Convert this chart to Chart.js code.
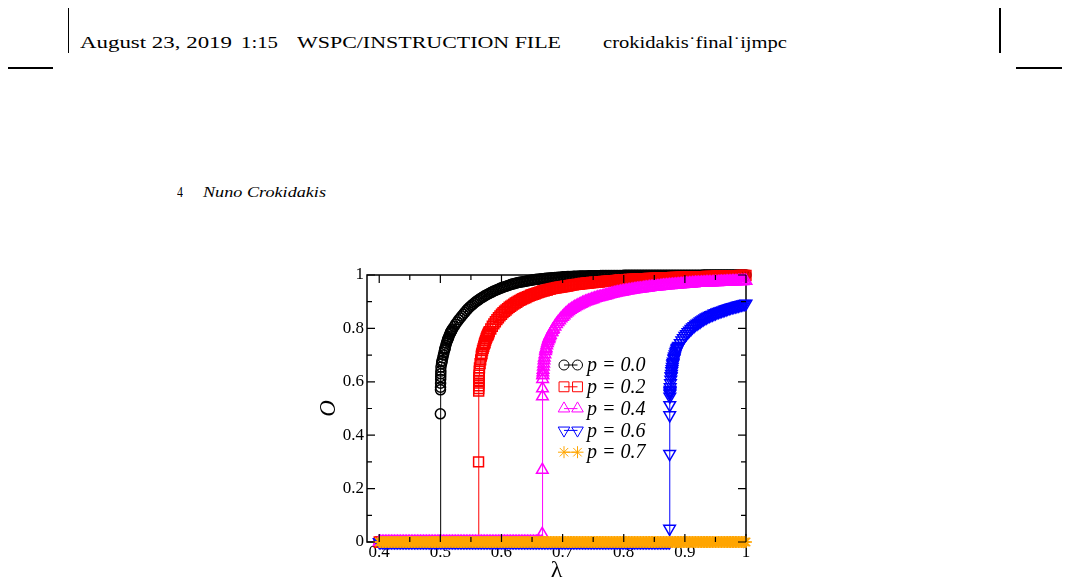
<!DOCTYPE html>
<html lang="en">
<head>
  <meta charset="UTF-8">
  <title>Order parameter O versus lambda</title>
  <script src="https://cdn.jsdelivr.net/npm/chart.js"></script>
  <style>
    html, body { margin: 0; padding: 0; background: #fff; }
    body {
      width: 1070px; height: 587px;
      position: relative; overflow: hidden;
      font-family: "Liberation Serif", "Times New Roman", "DejaVu Serif", serif; color: #000;
    }
    .mark { position: absolute; background: #000; }
    .txt { position: absolute; white-space: nowrap; line-height: 1; transform-origin: 0 0; }
    #plot { position: absolute; left: 0; top: 0; }
  </style>
</head>
<body>
  <!-- crop marks -->
  <div class="mark" style="left:68px;top:8px;width:1px;height:45px"></div>
  <div class="mark" style="left:999px;top:8px;width:2px;height:45px"></div>
  <div class="mark" style="left:8px;top:67px;width:45px;height:2px"></div>
  <div class="mark" style="left:1016px;top:67px;width:46px;height:2px"></div>

  <!-- running head -->
  <div class="txt" style="left:80px;top:34px;font-size:17.5px" data-w="152">August 23, 2019</div>
  <div class="txt" style="left:241px;top:34px;font-size:17.5px" data-w="37">1:15</div>
  <div class="txt" style="left:297px;top:34px;font-size:17.5px" data-w="264">WSPC/INSTRUCTION FILE</div>
  <div class="txt" style="left:603px;top:34px;font-size:17.5px" data-w="184">crokidakis˙final˙ijmpc</div>

  <div class="txt" style="left:177px;top:186px;font-size:14px" data-w="6">4</div>
  <div class="txt" style="left:203px;top:186px;font-size:14px;font-style:italic" data-w="123">Nuno Crokidakis</div>

  <canvas id="plot" width="1070" height="587"></canvas>

  <script>
    // shared lambda grid (step 0.0025), 8 values per row
    const lambdaGrid = [
      0.4000, 0.4025, 0.4050, 0.4075, 0.4100, 0.4125, 0.4150, 0.4175,
      0.4200, 0.4225, 0.4250, 0.4275, 0.4300, 0.4325, 0.4350, 0.4375,
      0.4400, 0.4425, 0.4450, 0.4475, 0.4500, 0.4525, 0.4550, 0.4575,
      0.4600, 0.4625, 0.4650, 0.4675, 0.4700, 0.4725, 0.4750, 0.4775,
      0.4800, 0.4825, 0.4850, 0.4875, 0.4900, 0.4925, 0.4950, 0.4975,
      0.5000, 0.5025, 0.5050, 0.5075, 0.5100, 0.5125, 0.5150, 0.5175,
      0.5200, 0.5225, 0.5250, 0.5275, 0.5300, 0.5325, 0.5350, 0.5375,
      0.5400, 0.5425, 0.5450, 0.5475, 0.5500, 0.5525, 0.5550, 0.5575,
      0.5600, 0.5625, 0.5650, 0.5675, 0.5700, 0.5725, 0.5750, 0.5775,
      0.5800, 0.5825, 0.5850, 0.5875, 0.5900, 0.5925, 0.5950, 0.5975,
      0.6000, 0.6025, 0.6050, 0.6075, 0.6100, 0.6125, 0.6150, 0.6175,
      0.6200, 0.6225, 0.6250, 0.6275, 0.6300, 0.6325, 0.6350, 0.6375,
      0.6400, 0.6425, 0.6450, 0.6475, 0.6500, 0.6525, 0.6550, 0.6575,
      0.6600, 0.6625, 0.6650, 0.6675, 0.6700, 0.6725, 0.6750, 0.6775,
      0.6800, 0.6825, 0.6850, 0.6875, 0.6900, 0.6925, 0.6950, 0.6975,
      0.7000, 0.7025, 0.7050, 0.7075, 0.7100, 0.7125, 0.7150, 0.7175,
      0.7200, 0.7225, 0.7250, 0.7275, 0.7300, 0.7325, 0.7350, 0.7375,
      0.7400, 0.7425, 0.7450, 0.7475, 0.7500, 0.7525, 0.7550, 0.7575,
      0.7600, 0.7625, 0.7650, 0.7675, 0.7700, 0.7725, 0.7750, 0.7775,
      0.7800, 0.7825, 0.7850, 0.7875, 0.7900, 0.7925, 0.7950, 0.7975,
      0.8000, 0.8025, 0.8050, 0.8075, 0.8100, 0.8125, 0.8150, 0.8175,
      0.8200, 0.8225, 0.8250, 0.8275, 0.8300, 0.8325, 0.8350, 0.8375,
      0.8400, 0.8425, 0.8450, 0.8475, 0.8500, 0.8525, 0.8550, 0.8575,
      0.8600, 0.8625, 0.8650, 0.8675, 0.8700, 0.8725, 0.8750, 0.8775,
      0.8800, 0.8825, 0.8850, 0.8875, 0.8900, 0.8925, 0.8950, 0.8975,
      0.9000, 0.9025, 0.9050, 0.9075, 0.9100, 0.9125, 0.9150, 0.9175,
      0.9200, 0.9225, 0.9250, 0.9275, 0.9300, 0.9325, 0.9350, 0.9375,
      0.9400, 0.9425, 0.9450, 0.9475, 0.9500, 0.9525, 0.9550, 0.9575,
      0.9600, 0.9625, 0.9650, 0.9675, 0.9700, 0.9725, 0.9750, 0.9775,
      0.9800, 0.9825, 0.9850, 0.9875, 0.9900, 0.9925, 0.9950, 0.9975,
      1.0000
    ];

    // O read on the grid, one list per p
    const orderP00 = [
      0, 0, 0, 0, 0, 0, 0, 0,
      0, 0, 0, 0, 0, 0, 0, 0,
      0, 0, 0, 0, 0, 0, 0, 0,
      0, 0, 0, 0, 0, 0, 0, 0,
      0, 0, 0, 0, 0, 0, 0, 0,
      0, 0.675, 0.700, 0.724, 0.745, 0.761, 0.776, 0.788,
      0.798, 0.807, 0.816, 0.824, 0.832, 0.839, 0.846, 0.853,
      0.860, 0.867, 0.873, 0.879, 0.884, 0.889, 0.894, 0.899,
      0.903, 0.907, 0.911, 0.915, 0.918, 0.922, 0.925, 0.928,
      0.931, 0.934, 0.937, 0.940, 0.942, 0.945, 0.947, 0.950,
      0.952, 0.954, 0.956, 0.958, 0.960, 0.962, 0.964, 0.966,
      0.967, 0.969, 0.970, 0.972, 0.973, 0.974, 0.975, 0.976,
      0.977, 0.978, 0.979, 0.980, 0.981, 0.982, 0.983, 0.984,
      0.984, 0.985, 0.986, 0.986, 0.987, 0.988, 0.988, 0.989,
      0.989, 0.990, 0.990, 0.991, 0.991, 0.992, 0.992, 0.992,
      0.993, 0.993, 0.993, 0.994, 0.994, 0.994, 0.994, 0.995,
      0.995, 0.995, 0.995, 0.996, 0.996, 0.996, 0.996, 0.996,
      0.996, 0.997, 0.997, 0.997, 0.997, 0.997, 0.997, 0.997,
      0.997, 0.998, 0.998, 0.998, 0.998, 0.998, 0.998, 0.998,
      0.998, 0.998, 0.998, 0.998, 0.998, 0.998, 0.998, 0.998,
      0.999, 0.999, 0.999, 0.999, 0.999, 0.999, 0.999, 0.999,
      0.999, 0.999, 0.999, 0.999, 0.999, 0.999, 0.999, 0.999,
      0.999, 0.999, 0.999, 0.999, 0.999, 0.999, 0.999, 0.999,
      0.999, 0.999, 0.999, 0.999, 0.999, 0.999, 0.999, 0.999,
      0.999, 0.999, 0.999, 0.999, 0.999, 0.999, 0.999, 0.999,
      0.999, 0.999, 0.999, 0.999, 0.999, 0.999, 0.999, 0.999,
      0.999, 0.999, 0.999, 0.999, 1, 1, 1, 1,
      1, 1, 1, 1, 1, 1, 1, 1,
      1, 1, 1, 1, 1, 1, 1, 1,
      1, 1, 1, 1, 1, 1, 1, 1,
      1
    ];
    const orderP02 = [
      0, 0, 0, 0, 0, 0, 0, 0,
      0, 0, 0, 0, 0, 0, 0, 0,
      0, 0, 0, 0, 0, 0, 0, 0,
      0, 0, 0, 0, 0, 0, 0, 0,
      0, 0, 0, 0, 0, 0, 0, 0,
      0, 0, 0, 0, 0, 0, 0, 0,
      0, 0, 0, 0, 0, 0, 0, 0,
      0, 0, 0, 0, 0, 0, 0, 0,
      0, 0, 0.668, 0.702, 0.725, 0.744, 0.762, 0.775,
      0.788, 0.798, 0.808, 0.817, 0.825, 0.833, 0.840, 0.847,
      0.853, 0.859, 0.864, 0.869, 0.874, 0.879, 0.883, 0.887,
      0.891, 0.895, 0.898, 0.902, 0.905, 0.908, 0.911, 0.914,
      0.916, 0.919, 0.921, 0.924, 0.926, 0.928, 0.930, 0.932,
      0.934, 0.936, 0.938, 0.940, 0.941, 0.943, 0.944, 0.946,
      0.947, 0.949, 0.950, 0.951, 0.952, 0.953, 0.954, 0.955,
      0.956, 0.957, 0.958, 0.959, 0.960, 0.961, 0.962, 0.963,
      0.964, 0.965, 0.965, 0.966, 0.967, 0.968, 0.968, 0.969,
      0.970, 0.970, 0.971, 0.972, 0.972, 0.973, 0.973, 0.974,
      0.974, 0.975, 0.975, 0.976, 0.976, 0.977, 0.977, 0.978,
      0.978, 0.979, 0.979, 0.980, 0.980, 0.981, 0.981, 0.981,
      0.982, 0.982, 0.982, 0.983, 0.983, 0.983, 0.984, 0.984,
      0.984, 0.985, 0.985, 0.985, 0.986, 0.986, 0.986, 0.986,
      0.987, 0.987, 0.987, 0.987, 0.988, 0.988, 0.988, 0.988,
      0.989, 0.989, 0.989, 0.989, 0.990, 0.990, 0.990, 0.990,
      0.991, 0.991, 0.991, 0.991, 0.991, 0.992, 0.992, 0.992,
      0.992, 0.992, 0.993, 0.993, 0.993, 0.993, 0.993, 0.993,
      0.994, 0.994, 0.994, 0.994, 0.994, 0.994, 0.995, 0.995,
      0.995, 0.995, 0.995, 0.995, 0.995, 0.996, 0.996, 0.996,
      0.996, 0.996, 0.996, 0.996, 0.997, 0.997, 0.997, 0.997,
      0.997, 0.997, 0.997, 0.997, 0.998, 0.998, 0.998, 0.998,
      0.998
    ];
    const orderP04 = [
      0, 0, 0, 0, 0, 0, 0, 0,
      0, 0, 0, 0, 0, 0, 0, 0,
      0, 0, 0, 0, 0, 0, 0, 0,
      0, 0, 0, 0, 0, 0, 0, 0,
      0, 0, 0, 0, 0, 0, 0, 0,
      0, 0, 0, 0, 0, 0, 0, 0,
      0, 0, 0, 0, 0, 0, 0, 0,
      0, 0, 0, 0, 0, 0, 0, 0,
      0, 0, 0, 0, 0, 0, 0, 0,
      0, 0, 0, 0, 0, 0, 0, 0,
      0, 0, 0, 0, 0, 0, 0, 0,
      0, 0, 0, 0, 0, 0, 0, 0,
      0, 0, 0, 0, 0, 0, 0, 0,
      0, 0, 0, 0.625, 0.690, 0.721, 0.745, 0.762,
      0.776, 0.787, 0.798, 0.807, 0.816, 0.823, 0.830, 0.837,
      0.843, 0.849, 0.855, 0.860, 0.865, 0.869, 0.873, 0.877,
      0.880, 0.883, 0.886, 0.889, 0.892, 0.895, 0.897, 0.900,
      0.902, 0.904, 0.906, 0.908, 0.910, 0.912, 0.914, 0.916,
      0.917, 0.919, 0.920, 0.922, 0.923, 0.925, 0.926, 0.928,
      0.929, 0.931, 0.932, 0.934, 0.935, 0.936, 0.937, 0.938,
      0.939, 0.940, 0.941, 0.942, 0.943, 0.944, 0.945, 0.946,
      0.947, 0.948, 0.949, 0.949, 0.950, 0.951, 0.952, 0.952,
      0.953, 0.954, 0.955, 0.955, 0.956, 0.956, 0.957, 0.957,
      0.958, 0.959, 0.960, 0.960, 0.961, 0.961, 0.962, 0.962,
      0.963, 0.963, 0.964, 0.964, 0.965, 0.965, 0.966, 0.966,
      0.967, 0.967, 0.967, 0.968, 0.968, 0.969, 0.969, 0.970,
      0.970, 0.970, 0.970, 0.971, 0.971, 0.971, 0.972, 0.972,
      0.972, 0.972, 0.972, 0.973, 0.973, 0.973, 0.973, 0.974,
      0.974, 0.974, 0.974, 0.975, 0.975, 0.975, 0.975, 0.976,
      0.976, 0.976, 0.976, 0.977, 0.977, 0.977, 0.977, 0.978,
      0.978
    ];
    const orderP06 = [
      0, 0, 0, 0, 0, 0, 0, 0,
      0, 0, 0, 0, 0, 0, 0, 0,
      0, 0, 0, 0, 0, 0, 0, 0,
      0, 0, 0, 0, 0, 0, 0, 0,
      0, 0, 0, 0, 0, 0, 0, 0,
      0, 0, 0, 0, 0, 0, 0, 0,
      0, 0, 0, 0, 0, 0, 0, 0,
      0, 0, 0, 0, 0, 0, 0, 0,
      0, 0, 0, 0, 0, 0, 0, 0,
      0, 0, 0, 0, 0, 0, 0, 0,
      0, 0, 0, 0, 0, 0, 0, 0,
      0, 0, 0, 0, 0, 0, 0, 0,
      0, 0, 0, 0, 0, 0, 0, 0,
      0, 0, 0, 0, 0, 0, 0, 0,
      0, 0, 0, 0, 0, 0, 0, 0,
      0, 0, 0, 0, 0, 0, 0, 0,
      0, 0, 0, 0, 0, 0, 0, 0,
      0, 0, 0, 0, 0, 0, 0, 0,
      0, 0, 0, 0, 0, 0, 0, 0,
      0, 0, 0, 0, 0, 0, 0, 0,
      0, 0, 0, 0, 0, 0, 0, 0,
      0, 0, 0, 0, 0, 0, 0, 0,
      0, 0, 0, 0, 0, 0, 0, 0,
      0, 0, 0, 0, 0, 0, 0, 0.620,
      0.665, 0.690, 0.710, 0.725, 0.735, 0.745, 0.755, 0.764,
      0.772, 0.779, 0.786, 0.792, 0.798, 0.804, 0.809, 0.814,
      0.818, 0.822, 0.826, 0.830, 0.834, 0.838, 0.841, 0.844,
      0.847, 0.850, 0.852, 0.855, 0.857, 0.860, 0.862, 0.864,
      0.866, 0.868, 0.870, 0.872, 0.874, 0.876, 0.878, 0.880,
      0.881, 0.883, 0.884, 0.886, 0.887, 0.889, 0.890, 0.892,
      0.893
    ];
    const orderP07 = [
      0, 0, 0, 0, 0, 0, 0, 0,
      0, 0, 0, 0, 0, 0, 0, 0,
      0, 0, 0, 0, 0, 0, 0, 0,
      0, 0, 0, 0, 0, 0, 0, 0,
      0, 0, 0, 0, 0, 0, 0, 0,
      0, 0, 0, 0, 0, 0, 0, 0,
      0, 0, 0, 0, 0, 0, 0, 0,
      0, 0, 0, 0, 0, 0, 0, 0,
      0, 0, 0, 0, 0, 0, 0, 0,
      0, 0, 0, 0, 0, 0, 0, 0,
      0, 0, 0, 0, 0, 0, 0, 0,
      0, 0, 0, 0, 0, 0, 0, 0,
      0, 0, 0, 0, 0, 0, 0, 0,
      0, 0, 0, 0, 0, 0, 0, 0,
      0, 0, 0, 0, 0, 0, 0, 0,
      0, 0, 0, 0, 0, 0, 0, 0,
      0, 0, 0, 0, 0, 0, 0, 0,
      0, 0, 0, 0, 0, 0, 0, 0,
      0, 0, 0, 0, 0, 0, 0, 0,
      0, 0, 0, 0, 0, 0, 0, 0,
      0, 0, 0, 0, 0, 0, 0, 0,
      0, 0, 0, 0, 0, 0, 0, 0,
      0, 0, 0, 0, 0, 0, 0, 0,
      0, 0, 0, 0, 0, 0, 0, 0,
      0, 0, 0, 0, 0, 0, 0, 0,
      0, 0, 0, 0, 0, 0, 0, 0,
      0, 0, 0, 0, 0, 0, 0, 0,
      0, 0, 0, 0, 0, 0, 0, 0,
      0, 0, 0, 0, 0, 0, 0, 0,
      0, 0, 0, 0, 0, 0, 0, 0,
      0
    ];

    // extra points around each jump (finer lambda steps)
    const jumpLambdaP00 = [0.5, 0.5002, 0.5003, 0.5004, 0.5005, 0.5006, 0.5007, 0.5008,
      0.501, 0.502, 0.503, 0.504, 0.506, 0.507, 0.508, 0.509,
      0.511, 0.512, 0.513, 0.514, 0.516, 0.517, 0.518, 0.519];
    const jumpOrderP00 = [0.48, 0.57, 0.58, 0.595, 0.61, 0.62, 0.63, 0.64,
      0.655, 0.668, 0.68, 0.69, 0.71, 0.719, 0.728, 0.737,
      0.752, 0.758, 0.764, 0.77, 0.781, 0.786, 0.79, 0.794];

    const jumpLambdaP02 = [0.5625, 0.5625, 0.5627, 0.5628, 0.5629, 0.563, 0.5631, 0.5632,
      0.5634, 0.5637, 0.564, 0.566, 0.567, 0.568, 0.569, 0.571,
      0.572, 0.573, 0.574, 0.576, 0.577, 0.578, 0.579];
    const jumpOrderP02 = [0, 0.30, 0.565, 0.575, 0.585, 0.595, 0.605, 0.615,
      0.625, 0.64, 0.652, 0.682, 0.696, 0.707, 0.717, 0.733,
      0.741, 0.748, 0.755, 0.768, 0.773, 0.778, 0.783];

    const jumpLambdaP04 = [0.6667, 0.6667, 0.6668, 0.667, 0.6671, 0.6673, 0.6675, 0.6677,
      0.668, 0.6685, 0.669, 0.6695, 0.671, 0.672, 0.673, 0.674,
      0.676, 0.677, 0.678, 0.679, 0.682, 0.684];
    const jumpOrderP04 = [0, 0.03, 0.27, 0.545, 0.575, 0.61, 0.625, 0.635,
      0.645, 0.657, 0.668, 0.68, 0.703, 0.715, 0.726, 0.736,
      0.752, 0.759, 0.765, 0.771, 0.785, 0.794];

    const jumpLambdaP06 = [0.875, 0.8751, 0.8752, 0.8753, 0.8754, 0.8755, 0.8756, 0.8757,
      0.8758, 0.876, 0.8765, 0.877, 0.8775, 0.878, 0.8785, 0.879,
      0.8795, 0.8805, 0.881, 0.882, 0.883, 0.884, 0.886, 0.887, 0.888, 0.889];
    const jumpOrderP06 = [0.05, 0.33, 0.475, 0.513, 0.545, 0.555, 0.56, 0.565,
      0.57, 0.58, 0.595, 0.608, 0.62, 0.63, 0.64, 0.648,
      0.656, 0.67, 0.676, 0.686, 0.695, 0.703, 0.716, 0.722, 0.727, 0.731];

    const seriesLabels = ['p = 0.0', 'p = 0.2', 'p = 0.4', 'p = 0.6', 'p = 0.7'];

    const xTicks = [0.4, 0.5, 0.6, 0.7, 0.8, 0.9, 1.0];
    const xTickLabels = ['0.4', '0.5', '0.6', '0.7', '0.8', '0.9', '1'];
    const xMinorTicks = [0.45, 0.55, 0.65, 0.75, 0.85, 0.95];
    const yTicks = [0, 0.2, 0.4, 0.6, 0.8, 1.0];
    const yTickLabels = ['0', '0.2', '0.4', '0.6', '0.8', '1'];
    const yMinorTicks = [0.1, 0.3, 0.5, 0.7, 0.9];

    // stretch the page texts to the measured widths
    document.querySelectorAll('.txt[data-w]').forEach(el => {
      const w = parseFloat(el.dataset.w);
      el.style.transform = 'scaleX(' + (w / el.getBoundingClientRect().width) + ')';
    });

    function buildPoints(values, jumpLam, jumpO) {
      const pts = lambdaGrid.map((x, i) => ({ x: x, y: values[i] }));
      jumpLam.forEach((x, i) => pts.push({ x: x, y: jumpO[i] }));
      pts.sort((a, b) => a.x - b.x);
      return pts;
    }

    const styles = [
      { color: '#000000', shape: 'circle', r: 5, rot: 0 },
      { color: '#ff0000', shape: 'rect', r: 7, rot: 0 },
      { color: '#ff00ff', shape: 'triangle', r: 6.7, rot: 0 },
      { color: '#0000ff', shape: 'triangle', r: 6.7, rot: 180 },
      { color: '#ffa500', shape: 'star', r: 6, rot: 0 }
    ];
    const seriesPoints = [
      buildPoints(orderP00, jumpLambdaP00, jumpOrderP00),
      buildPoints(orderP02, jumpLambdaP02, jumpOrderP02),
      buildPoints(orderP04, jumpLambdaP04, jumpOrderP04),
      buildPoints(orderP06, jumpLambdaP06, jumpOrderP06),
      buildPoints(orderP07, [], [])
    ];

    const datasets = seriesPoints.map((pts, i) => ({
      label: seriesLabels[i],
      data: pts,
      showLine: true,
      borderColor: styles[i].color,
      borderWidth: 1,
      backgroundColor: 'rgba(0,0,0,0)',
      pointStyle: styles[i].shape,
      pointRadius: styles[i].r,
      pointRotation: styles[i].rot,
      pointBorderColor: styles[i].color,
      pointBackgroundColor: 'rgba(0,0,0,0)',
      pointBorderWidth: 1.5,
      clip: false,
      order: 5 - i   // later p drawn on top
    }));

    const serif = '"Liberation Serif", "Times New Roman", "DejaVu Serif", serif';

    // frame under the data, inward ticks on top of it
    const framePlugin = {
      id: 'frameTicks',
      beforeDatasetsDraw(chart) {
        const { ctx, chartArea: a } = chart;
        ctx.save();
        ctx.strokeStyle = '#000';
        ctx.lineWidth = 1.5;
        ctx.strokeRect(a.left, a.top, a.right - a.left, a.bottom - a.top);
        ctx.restore();
      },
      afterDatasetsDraw(chart) {
        const { ctx, chartArea: a } = chart;
        const sx = chart.scales.x, sy = chart.scales.y;
        ctx.save();
        ctx.strokeStyle = '#000';
        ctx.lineWidth = 1.2;
        ctx.beginPath();
        const xt = (v, len) => {
          const px = sx.getPixelForValue(v);
          ctx.moveTo(px, a.bottom); ctx.lineTo(px, a.bottom - len);
          ctx.moveTo(px, a.top); ctx.lineTo(px, a.top + len);
        };
        const yt = (v, len) => {
          const py = sy.getPixelForValue(v);
          ctx.moveTo(a.left, py); ctx.lineTo(a.left + len, py);
          ctx.moveTo(a.right, py); ctx.lineTo(a.right - len, py);
        };
        xTicks.forEach(v => xt(v, 8));
        xMinorTicks.forEach(v => xt(v, 5));
        yTicks.forEach(v => yt(v, 8));
        yMinorTicks.forEach(v => yt(v, 5));
        ctx.stroke();
        ctx.restore();
      }
    };

    // legend inside the plot
    const legendPlugin = {
      id: 'insetLegend',
      afterDraw(chart) {
        const { ctx, chartArea: a } = chart;
        const x0 = a.left + 197, y0 = a.top + 90, dy = 21.8;
        chart.data.datasets.forEach((ds, i) => {
          const yy = y0 + dy * i;
          ctx.save();
          ctx.strokeStyle = ds.borderColor;
          ctx.fillStyle = 'rgba(0,0,0,0)';
          ctx.lineWidth = 1;
          ctx.beginPath();
          ctx.moveTo(x0, yy);
          ctx.lineTo(x0 + 13.5, yy);
          ctx.stroke();
          [x0, x0 + 13.5].forEach(px => {
            Chart.helpers.drawPoint(ctx, {
              pointStyle: ds.pointStyle, rotation: ds.pointRotation,
              radius: ds.pointRadius, borderWidth: 1
            }, px, yy);
          });
          ctx.fillStyle = '#000';
          ctx.font = 'italic 20px ' + serif;
          ctx.textBaseline = 'middle';
          ctx.textAlign = 'left';
          ctx.fillText(ds.label, x0 + 23, yy + 1);
          ctx.restore();
        });
      }
    };

    new Chart(document.getElementById('plot').getContext('2d'), {
      type: 'scatter',
      data: { datasets: datasets },
      options: {
        responsive: false,
        animation: false,
        events: [],
        layout: { padding: { left: 315, right: 324, top: 275, bottom: 0 } },
        plugins: { legend: { display: false }, tooltip: { enabled: false } },
        scales: {
          x: {
            type: 'linear',
            min: 0.38,
            max: 1.0,
            afterBuildTicks: s => { s.ticks = xTicks.map(v => ({ value: v })); },
            afterFit: s => { s.height = 45; },
            grid: { display: false, drawTicks: false },
            border: { display: false },
            ticks: {
              color: '#000', padding: 0, maxRotation: 0, autoSkip: false,
              font: { family: serif, size: 17 },
              callback: (v, i) => xTickLabels[i]
            },
            title: {
              display: true, text: 'λ', color: '#000',
              font: { family: serif, size: 24 },
              padding: { top: 0, bottom: 2 }
            }
          },
          y: {
            type: 'linear',
            min: 0,
            max: 1.0,
            afterBuildTicks: s => { s.ticks = yTicks.map(v => ({ value: v })); },
            afterFit: s => { s.width = 52; },
            grid: { display: false, drawTicks: false },
            border: { display: false },
            ticks: {
              color: '#000', padding: 3, autoSkip: false,
              font: { family: serif, size: 17 },
              callback: (v, i) => yTickLabels[i]
            },
            title: {
              display: true, text: 'O', color: '#000',
              font: { family: serif, size: 23, style: 'italic' },
              padding: { top: 0, bottom: 0 }
            }
          }
        }
      },
      plugins: [framePlugin, legendPlugin]
    });
  </script>
</body>
</html>
